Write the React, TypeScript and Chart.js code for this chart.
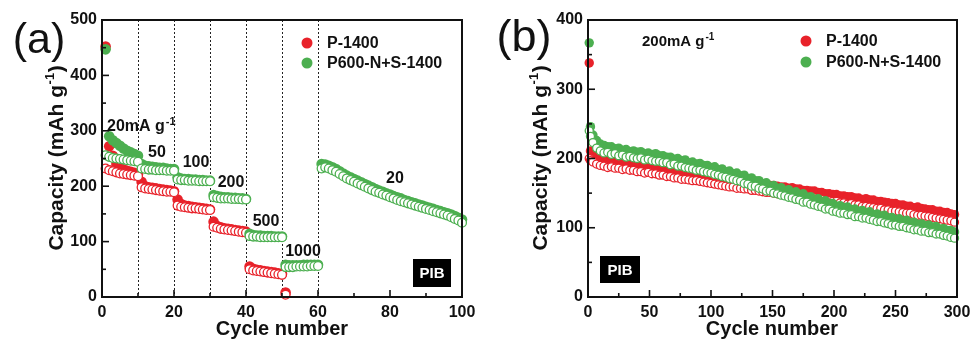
import React, { useEffect, useRef } from "react";
import { Chart, registerables } from "chart.js";

Chart.register(...registerables);

const FONT = "Arial, 'Liberation Sans', Helvetica, sans-serif";
const INK = "#111";
const RED = "#e8222a";
const GREEN = "#4caf50";

// ---------------- Panel (a): rate capability ----------------
const xTicksA = [0, 20, 40, 60, 80, 100];
const xMinorA = [10, 30, 50, 70, 90];
const yTicksA = [0, 100, 200, 300, 400, 500];
const yMinorA = [50, 150, 250, 350, 450];
const rateDividersA = [10, 20, 30, 40, 50, 60];
const rateLabelsA = ["50", "100", "200", "500", "1000", "20"];

// values per cycle (index 0 = cycle 1)
const greenDischargeA = [
  447, 290, 283, 278, 273, 268, 264, 261, 258, 255,
  240, 237, 236, 235, 234, 233, 233, 232, 231, 231,
  216, 214, 213, 213, 212, 212, 211, 211, 210, 210,
  184, 182, 181, 180, 180, 179, 179, 178, 178, 177,
  114, 112, 111, 111, 110, 110, 110, 109, 109, 109,
  58, 57, 57, 57, 57, 58, 58, 58, 58, 58,
  240, 239, 237, 234, 231, 227, 223, 219, 216, 213,
  210, 207, 204, 201, 198, 195, 192, 190, 187, 185,
  182, 180, 178, 175, 173, 171, 169, 167, 165, 163,
  161, 159, 157, 155, 153, 151, 149, 146, 143, 140,
];
const greenChargeA = [
  256, 253, 251, 250, 249, 248, 247, 246, 245, 244,
  232, 231, 230, 230, 229, 229, 229, 228, 228, 228,
  212, 211, 211, 210, 210, 210, 209, 209, 209, 209,
  180, 179, 178, 178, 178, 177, 177, 177, 176, 176,
  110, 109, 109, 108, 108, 108, 108, 108, 108, 108,
  54, 54, 54, 55, 55, 55, 55, 56, 56, 56,
  232, 234, 232, 229, 226, 222, 218, 214, 211, 208,
  205, 202, 199, 196, 193, 190, 188, 185, 183, 180,
  178, 175, 173, 171, 169, 167, 165, 163, 161, 159,
  157, 155, 153, 151, 149, 147, 144, 141, 138, 134,
];
const redDischargeA = [
  452, 272, 255, 240, 233, 230, 228, 226, 224, 222,
  208, 200, 198, 197, 196, 195, 194, 193, 192, 191,
  176, 168, 165, 164, 163, 162, 161, 160, 159, 158,
  136, 128, 126, 124, 123, 122, 121, 120, 119, 118,
  55, 51, 49, 48, 47, 46, 45, 44, 43, 42,
  8,
];
const redChargeA = [
  232, 229, 227, 225, 223, 222, 221, 220, 219, 218,
  198, 196, 195, 194, 193, 192, 191, 190, 190, 189,
  165, 163, 162, 161, 160, 160, 159, 158, 157, 157,
  127, 125, 123, 122, 121, 120, 119, 118, 117, 116,
  50, 48, 47, 46, 45, 44, 43, 42, 41, 40,
  4,
];

// ---------------- Panel (b): cycling at 200 mA g-1 ----------------
const xTicksB = [0, 50, 100, 150, 200, 250, 300];
const xMinorB = [25, 75, 125, 175, 225, 275];
const yTicksB = [0, 100, 200, 300, 400];
const yMinorB = [50, 150, 250, 350];

const cyclesB = [
  1, 2, 4, 7, 10, 13, 16, 19, 22, 25,
  28, 31, 34, 37, 40, 43, 46, 49, 52, 55,
  58, 61, 64, 67, 70, 73, 76, 79, 82, 85,
  88, 91, 94, 97, 100, 103, 106, 109, 112, 115,
  118, 121, 124, 127, 130, 133, 136, 139, 142, 145,
  148, 151, 154, 157, 160, 163, 166, 169, 172, 175,
  178, 181, 184, 187, 190, 193, 196, 199, 202, 205,
  208, 211, 214, 217, 220, 223, 226, 229, 232, 235,
  238, 241, 244, 247, 250, 253, 256, 259, 262, 265,
  268, 271, 274, 277, 280, 283, 286, 289, 292, 295,
  298,
];
const greenDischargeB = [
  367, 246, 234, 226, 221, 219, 217, 217, 214, 215,
  212, 213, 210, 211, 209, 210, 207, 208, 206, 207,
  204, 204, 202, 202, 199, 200, 197, 198, 194, 195,
  192, 193, 190, 190, 187, 188, 184, 185, 181, 182,
  178, 179, 175, 176, 171, 172, 168, 168, 164, 165,
  160, 161, 157, 158, 154, 155, 151, 152, 148, 149,
  144, 145, 141, 142, 138, 139, 135, 135, 131, 132,
  129, 130, 126, 127, 124, 125, 121, 123, 119, 120,
  117, 118, 114, 115, 112, 113, 109, 111, 107, 108,
  105, 106, 103, 104, 101, 102, 98, 99, 96, 96,
  94,
];
const greenChargeB = [
  240, 232, 223, 215, 211, 208, 209, 206, 207, 204,
  205, 202, 203, 201, 200, 201, 198, 199, 197, 196,
  196, 194, 194, 191, 192, 189, 189, 187, 186, 185,
  183, 183, 181, 180, 179, 177, 176, 174, 173, 171,
  170, 168, 167, 164, 163, 160, 160, 157, 156, 153,
  153, 150, 149, 147, 146, 144, 143, 141, 140, 137,
  137, 134, 133, 131, 130, 127, 127, 124, 123, 121,
  121, 119, 119, 116, 116, 114, 114, 112, 111, 109,
  109, 107, 106, 104, 104, 102, 102, 100, 99, 97,
  97, 95, 95, 93, 93, 91, 91, 89, 88, 86,
  85,
];
const redDischargeB = [
  338, 211, 207, 203, 201, 199, 199, 197, 198, 196,
  196, 194, 195, 192, 193, 190, 191, 189, 189, 187,
  187, 185, 185, 183, 183, 181, 181, 179, 179, 177,
  178, 177, 176, 174, 175, 172, 173, 171, 171, 168,
  169, 168, 167, 165, 167, 164, 164, 163, 163, 161,
  161, 161, 160, 159, 159, 157, 158, 156, 156, 154,
  154, 153, 153, 151, 151, 149, 149, 148, 148, 146,
  146, 145, 145, 143, 143, 141, 142, 140, 140, 138,
  138, 137, 136, 135, 135, 133, 133, 131, 131, 129,
  130, 128, 127, 126, 126, 124, 124, 122, 122, 120,
  119,
];
const redChargeB = [
  200, 197, 195, 192, 190, 189, 187, 188, 186, 186,
  184, 185, 183, 183, 181, 181, 179, 180, 178, 178,
  176, 176, 174, 174, 172, 172, 170, 170, 169, 168,
  168, 167, 166, 165, 164, 163, 162, 161, 160, 159,
  159, 157, 157, 156, 156, 154, 154, 153, 152, 151,
  151, 150, 149, 149, 149, 147, 147, 145, 146, 144,
  143, 142, 143, 141, 141, 139, 139, 138, 138, 136,
  136, 134, 135, 133, 133, 131, 131, 130, 129, 128,
  128, 126, 126, 124, 124, 123, 122, 121, 121, 119,
  118, 118, 117, 116, 115, 114, 113, 112, 111, 110,
  108,
];

const seriesNames = ["P-1400", "P600-N+S-1400"];

// ---------------- helpers ----------------
function byCycle(values: number[]) {
  return values.map((y, i) => ({ x: i + 1, y }));
}
function byX(xs: number[], values: number[]) {
  return values.map((y, i) => ({ x: xs[i], y }));
}
function filledSet(label: string, data: any[], color: string, r: number) {
  return {
    label,
    data,
    showLine: false,
    clip: false,
    pointRadius: r,
    pointHoverRadius: r,
    pointBackgroundColor: color,
    pointBorderColor: color,
    pointBorderWidth: 0,
  };
}
function openSet(label: string, data: any[], color: string, r: number) {
  return {
    label,
    data,
    showLine: false,
    clip: false,
    pointRadius: r,
    pointHoverRadius: r,
    pointBackgroundColor: "#ffffff",
    pointBorderColor: color,
    pointBorderWidth: 1.3,
  };
}

function drawYTitle(ctx: CanvasRenderingContext2D, baseX: number, cy: number) {
  ctx.save();
  ctx.translate(baseX, cy);
  ctx.rotate(-Math.PI / 2);
  const main = "Capacity (mAh g";
  const sup = "-1";
  const end = ")";
  ctx.font = `bold 21px ${FONT}`;
  const w1 = ctx.measureText(main).width;
  const w3 = ctx.measureText(end).width;
  ctx.font = `bold 13px ${FONT}`;
  const w2 = ctx.measureText(sup).width;
  const total = w1 + w2 + w3 + 1;
  let x = -total / 2;
  ctx.textAlign = "left";
  ctx.textBaseline = "alphabetic";
  ctx.fillStyle = INK;
  ctx.font = `bold 21px ${FONT}`;
  ctx.fillText(main, x, 0);
  x += w1 + 0.5;
  ctx.font = `bold 13px ${FONT}`;
  ctx.fillText(sup, x, -9);
  x += w2 + 0.5;
  ctx.font = `bold 21px ${FONT}`;
  ctx.fillText(end, x, 0);
  ctx.restore();
}

function drawSupText(ctx: CanvasRenderingContext2D, main: string, sup: string, x: number, baseY: number, size: number) {
  ctx.save();
  ctx.fillStyle = INK;
  ctx.textAlign = "left";
  ctx.textBaseline = "alphabetic";
  ctx.font = `bold ${size}px ${FONT}`;
  ctx.fillText(main, x, baseY);
  const w = ctx.measureText(main).width;
  ctx.font = `bold ${Math.round(size * 0.68)}px ${FONT}`;
  ctx.fillText(sup, x + w + 1, baseY - 6);
  ctx.restore();
}

function drawLegend(ctx: CanvasRenderingContext2D, dotX: number, textX: number, y1: number, y2: number) {
  ctx.save();
  const rows: [string, string, number][] = [
    [seriesNames[0], RED, y1],
    [seriesNames[1], GREEN, y2],
  ];
  for (const [name, color, y] of rows) {
    ctx.fillStyle = color;
    ctx.beginPath();
    ctx.arc(dotX, y, 5.5, 0, Math.PI * 2);
    ctx.fill();
    ctx.fillStyle = INK;
    ctx.font = `bold 16px ${FONT}`;
    ctx.textAlign = "left";
    ctx.textBaseline = "middle";
    ctx.fillText(name, textX, y + 1);
  }
  ctx.restore();
}

function drawPIB(ctx: CanvasRenderingContext2D, x: number, y: number, w: number, h: number) {
  ctx.save();
  ctx.fillStyle = "#000";
  ctx.fillRect(x, y, w, h);
  ctx.fillStyle = "#fff";
  ctx.font = `bold 15px ${FONT}`;
  ctx.textAlign = "center";
  ctx.textBaseline = "middle";
  ctx.fillText("PIB", x + w / 2, y + h / 2 + 1);
  ctx.restore();
}

function drawXTitle(ctx: CanvasRenderingContext2D, cx: number, baseY: number) {
  ctx.save();
  ctx.fillStyle = INK;
  ctx.font = `bold 20px ${FONT}`;
  ctx.textAlign = "center";
  ctx.textBaseline = "alphabetic";
  ctx.fillText("Cycle number", cx, baseY);
  ctx.restore();
}

function decorPlugin(opts: {
  dividers?: number[];
  xMajor: number[];
  xMinor: number[];
  yMajor: number[];
  yMinor: number[];
  text: (ctx: CanvasRenderingContext2D) => void;
}) {
  return {
    id: "decor",
    beforeDatasetsDraw(chart: any) {
      const { ctx, chartArea: ca, scales } = chart;
      if (opts.dividers) {
        ctx.save();
        ctx.strokeStyle = "#222";
        ctx.lineWidth = 1;
        ctx.setLineDash([2, 2]);
        for (const v of opts.dividers) {
          const x = Math.round(scales.x.getPixelForValue(v)) + 0.5;
          ctx.beginPath();
          ctx.moveTo(x, ca.top);
          ctx.lineTo(x, ca.bottom);
          ctx.stroke();
        }
        ctx.restore();
      }
    },
    afterDraw(chart: any) {
      const { ctx, chartArea: ca, scales } = chart;
      ctx.save();
      ctx.strokeStyle = INK;
      ctx.lineWidth = 2;
      ctx.strokeRect(ca.left, ca.top, ca.right - ca.left, ca.bottom - ca.top);
      ctx.lineWidth = 1.6;
      const seg = (x1: number, y1: number, x2: number, y2: number) => {
        ctx.beginPath();
        ctx.moveTo(x1, y1);
        ctx.lineTo(x2, y2);
        ctx.stroke();
      };
      for (const v of opts.xMajor) {
        const x = scales.x.getPixelForValue(v);
        seg(x, ca.bottom, x, ca.bottom - 7);
      }
      for (const v of opts.xMinor) {
        const x = scales.x.getPixelForValue(v);
        seg(x, ca.bottom, x, ca.bottom - 4);
      }
      for (const v of opts.yMajor) {
        const y = scales.y.getPixelForValue(v);
        seg(ca.left, y, ca.left + 7, y);
      }
      for (const v of opts.yMinor) {
        const y = scales.y.getPixelForValue(v);
        seg(ca.left, y, ca.left + 4, y);
      }
      ctx.restore();
      opts.text(ctx);
    },
  };
}

function makeChart(
  canvas: HTMLCanvasElement,
  cfg: {
    xMax: number;
    yMax: number;
    xTicks: number[];
    yTicks: number[];
    yAxisWidth: number;
    rightPad: number;
    datasets: any[];
    plugin: any;
  }
) {
  const tickFont = { family: FONT, size: 16, weight: "bold" as const };
  return new Chart(canvas, {
    type: "scatter",
    data: { datasets: cfg.datasets },
    options: {
      animation: false,
      responsive: false,
      devicePixelRatio: 1,
      events: [],
      layout: { padding: { top: 20, right: cfg.rightPad, left: 0, bottom: 0 } },
      plugins: { legend: { display: false }, tooltip: { enabled: false } },
      scales: {
        x: {
          type: "linear",
          min: 0,
          max: cfg.xMax,
          afterBuildTicks: (s: any) => {
            s.ticks = cfg.xTicks.map((v) => ({ value: v }));
          },
          afterFit: (s: any) => {
            s.height = 42;
          },
          grid: { display: false, drawTicks: false },
          border: { display: false },
          ticks: { font: tickFont, color: INK, padding: 6, maxRotation: 0 },
        },
        y: {
          type: "linear",
          min: 0,
          max: cfg.yMax,
          afterBuildTicks: (s: any) => {
            s.ticks = cfg.yTicks.map((v) => ({ value: v }));
          },
          afterFit: (s: any) => {
            s.width = cfg.yAxisWidth;
          },
          grid: { display: false, drawTicks: false },
          border: { display: false },
          ticks: { font: tickFont, color: INK, padding: 5 },
        },
      },
    },
    plugins: [cfg.plugin],
  } as any);
}

export default function App() {
  const refA = useRef<HTMLCanvasElement>(null);
  const refB = useRef<HTMLCanvasElement>(null);

  useEffect(() => {
    const textA = (ctx: CanvasRenderingContext2D) => {
      ctx.save();
      ctx.fillStyle = INK;
      ctx.font = `43px ${FONT}`;
      ctx.textAlign = "center";
      ctx.textBaseline = "alphabetic";
      ctx.fillText("(a)", 39, 53);
      ctx.restore();
      drawYTitle(ctx, 63, 158);
      drawXTitle(ctx, 282, 335);
      drawLegend(ctx, 307, 327, 43, 63);
      drawSupText(ctx, "20mA g", "-1", 107, 131, 16);
      const pos: [number, number][] = [
        [157, 153],
        [196, 163],
        [231, 183],
        [266, 222],
        [303, 252],
        [395, 179],
      ];
      ctx.save();
      ctx.fillStyle = INK;
      ctx.font = `bold 16px ${FONT}`;
      ctx.textAlign = "center";
      ctx.textBaseline = "middle";
      rateLabelsA.forEach((t, i) => ctx.fillText(t, pos[i][0], pos[i][1]));
      ctx.restore();
      drawPIB(ctx, 413, 259, 38, 28);
    };

    const textB = (ctx: CanvasRenderingContext2D) => {
      ctx.save();
      ctx.fillStyle = INK;
      ctx.font = `45px ${FONT}`;
      ctx.textAlign = "center";
      ctx.textBaseline = "alphabetic";
      ctx.fillText("(b)", 34, 51);
      ctx.restore();
      drawYTitle(ctx, 57, 158);
      drawXTitle(ctx, 282, 335);
      drawLegend(ctx, 316, 336, 41, 62);
      drawSupText(ctx, "200mA g", "-1", 152, 46, 15);
      drawPIB(ctx, 110, 256, 40, 27);
    };

    const chartA = makeChart(refA.current!, {
      xMax: 100,
      yMax: 500,
      xTicks: xTicksA,
      yTicks: yTicksA,
      yAxisWidth: 102,
      rightPad: 28,
      datasets: [
        openSet(seriesNames[1] + " charge", byCycle(greenChargeA), GREEN, 4.4),
        filledSet(seriesNames[1], byCycle(greenDischargeA), GREEN, 5.3),
        openSet(seriesNames[0] + " charge", byCycle(redChargeA), RED, 4.4),
        filledSet(seriesNames[0], byCycle(redDischargeA), RED, 5.3),
      ],
      plugin: decorPlugin({
        dividers: rateDividersA,
        xMajor: xTicksA,
        xMinor: xMinorA,
        yMajor: yTicksA,
        yMinor: yMinorA,
        text: textA,
      }),
    });

    const chartB = makeChart(refB.current!, {
      xMax: 300,
      yMax: 400,
      xTicks: xTicksB,
      yTicks: yTicksB,
      yAxisWidth: 98,
      rightPad: 22,
      datasets: [
        openSet(seriesNames[1] + " charge", byX(cyclesB, greenChargeB), GREEN, 4),
        filledSet(seriesNames[1], byX(cyclesB, greenDischargeB), GREEN, 4.7),
        openSet(seriesNames[0] + " charge", byX(cyclesB, redChargeB), RED, 4),
        filledSet(seriesNames[0], byX(cyclesB, redDischargeB), RED, 4.7),
      ],
      plugin: decorPlugin({
        xMajor: xTicksB,
        xMinor: xMinorB,
        yMajor: yTicksB,
        yMinor: yMinorB,
        text: textB,
      }),
    });

    return () => {
      chartA.destroy();
      chartB.destroy();
    };
  }, []);

  return (
    <div
      style={{
        position: "absolute",
        left: 0,
        top: 0,
        width: 979,
        height: 339,
        background: "#fff",
        overflow: "hidden",
      }}
    >
      <canvas ref={refA} width={490} height={339} style={{ position: "absolute", left: 0, top: 0 }} />
      <canvas ref={refB} width={489} height={339} style={{ position: "absolute", left: 490, top: 0 }} />
    </div>
  );
}
